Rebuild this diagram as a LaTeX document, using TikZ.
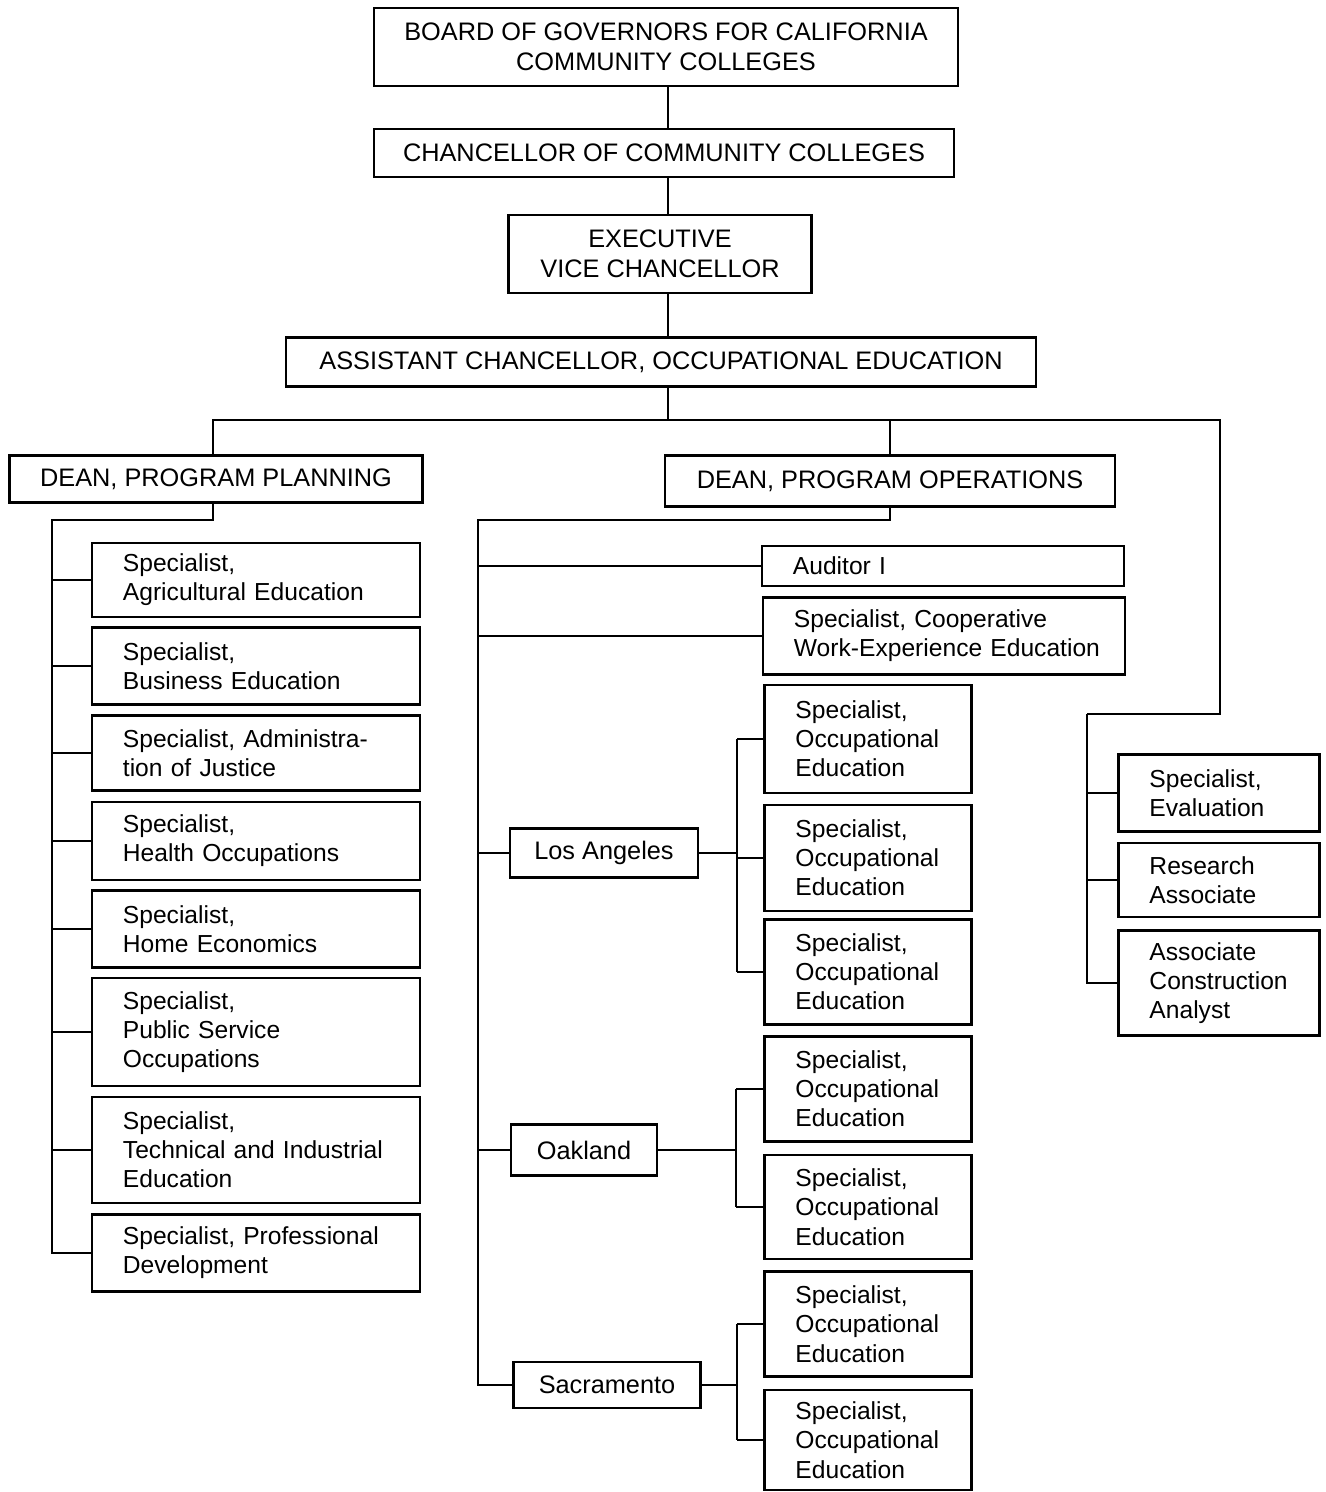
\documentclass[tikz,border=0pt]{standalone}
\usepackage{fontspec}
\setmainfont{Liberation Sans}
\usepackage{tikz}
\usetikzlibrary{positioning}

\tikzset{
  txt/.style={font=\fontsize{7.2}{8.5}\selectfont},
  box/.style={draw, line width=0.65pt, txt, align=center, inner sep=0pt},
  spec/.style={draw, line width=0.65pt, font=\fontsize{7.0}{8.3}\selectfont, align=left,
    inner xsep=0.31cm, inner ysep=0pt, execute at begin node={\hyphenpenalty=10000\exhyphenpenalty=10000}},
  lspec/.style={spec, text width=2.66cm},
  ospec/.style={spec, text width=1.45cm},
  rspec/.style={spec, text width=1.39cm},
  link/.style={line width=0.65pt},
}

\begin{document}
\begin{tikzpicture}[x=0.01cm, y=-0.01cm]
    \useasboundingbox (0,0) rectangle (1325,1492);

    % Top of the chart
    \node[box, minimum width=5.83cm, minimum height=0.78cm] (board) at (666,47) {BOARD OF GOVERNORS FOR CALIFORNIA\\COMMUNITY COLLEGES};
    \node[box, minimum width=5.79cm, minimum height=0.48cm] (chanc) at (664,153) {CHANCELLOR OF COMMUNITY COLLEGES};
    \node[box, minimum width=3.03cm, minimum height=0.78cm] (evc) at (660,254) {EXECUTIVE\\VICE CHANCELLOR};
    \node[box, minimum width=7.50cm, minimum height=0.49cm] (asst) at (661,362) {ASSISTANT CHANCELLOR, OCCUPATIONAL EDUCATION};
    \node[box, minimum width=4.13cm, minimum height=0.47cm] (deanpp) at (216,479) {DEAN, PROGRAM PLANNING};
    \node[box, minimum width=4.50cm, minimum height=0.51cm] (deanpo) at (890,481) {DEAN, PROGRAM OPERATIONS};

    \coordinate (trunk) at (668,420);
    \coordinate (ppdrop) at (213,420);
    \coordinate (rtop) at (1220,420);
    \coordinate (rbot) at (1220,714);
    \coordinate (staff) at (1087,714);
    \coordinate (ppbus) at (52,520);
    \coordinate (pobus) at (478,520);

    \draw[link] (trunk |- board.south) -- (trunk |- chanc.north);
    \draw[link] (trunk |- chanc.south) -- (trunk |- evc.north);
    \draw[link] (trunk |- evc.south) -- (trunk |- asst.north);
    \draw[link] (trunk |- asst.south) -- (trunk);
    \draw[link] (ppdrop |- deanpp.north) -- (ppdrop) -- (rtop) -- (rbot) -- (staff);
    \draw[link] (deanpo.north) -- (deanpo.north |- rtop);

    % Program planning specialists
    \node[lspec, minimum height=0.74cm] (agri) at (256,580) {Specialist,\\Agricultural Education};
    \node[lspec, minimum height=0.77cm] (bus) at (256,666) {Specialist,\\Business Education};
    \node[lspec, minimum height=0.75cm] (just) at (256,753) {Specialist, Administra-\\tion of Justice};
    \node[lspec, minimum height=0.78cm] (hlth) at (256,841) {Specialist,\\Health Occupations};
    \node[lspec, minimum height=0.77cm] (home) at (256,929) {Specialist,\\Home Economics};
    \node[lspec, minimum height=1.08cm] (pub) at (256,1032) {Specialist,\\Public Service\\Occupations};
    \node[lspec, minimum height=1.06cm] (tech) at (256,1150) {Specialist,\\\mbox{Technical and Industrial}\\Education};
    \node[lspec, minimum height=0.77cm] (prof) at (256,1253) {Specialist, Professional\\Development};

    \draw[link] (ppdrop |- deanpp.south) |- (ppbus) |- (prof.west);
    \foreach \n in {agri, bus, just, hlth, home, pub, tech} {
      \draw[link] (ppbus |- \n.west) -- (\n.west);
    }

    % Program operations
    \node[spec, text width=3.0cm, minimum height=0.40cm] (aud) at (943,566) {Auditor I};
    \node[spec, text width=3.0cm, minimum height=0.77cm] (coop) at (944,636) {Specialist, Cooperative\\\mbox{Work-Experience Education}};
    \node[box, minimum width=1.88cm, minimum height=0.49cm] (la) at (604,853) {Los Angeles};
    \node[box, minimum width=1.46cm, minimum height=0.51cm] (oak) at (584,1150) {Oakland};
    \node[box, minimum width=1.87cm, minimum height=0.46cm] (sac) at (607,1385) {Sacramento};

    \draw[link] (deanpo.south) |- (pobus) |- (sac.west);
    \foreach \n in {aud, coop, la, oak} {
      \draw[link] (pobus |- \n.west) -- (\n.west);
    }

    % Regional specialists
    \foreach \n/\y/\h in {la1/739/1.08, la2/858/1.06, la3/972/1.05, oak1/1089/1.05, oak2/1207/1.04, sac1/1324/1.05, sac2/1440/1.00} {
      \node[ospec, minimum height=\h cm] (\n) at (868,\y) {Specialist,\\Occupational\\Education};
    }

    \coordinate (labus) at (737,0);
    \draw[link] (la.east) -- (labus |- la.east);
    \draw[link] (labus |- la1.west) -- (labus |- la3.west);
    \coordinate (oakbus) at (736,0);
    \draw[link] (oak.east) -- (oakbus |- oak.east);
    \draw[link] (oakbus |- oak1.west) -- (oakbus |- oak2.west);
    \coordinate (sacbus) at (737,0);
    \draw[link] (sac.east) -- (sacbus |- sac.east);
    \draw[link] (sacbus |- sac1.west) -- (sacbus |- sac2.west);
    \foreach \n/\b in {la1/labus, la2/labus, la3/labus, oak1/oakbus, oak2/oakbus, sac1/sacbus, sac2/sacbus} {
      \draw[link] (\b |- \n.west) -- (\n.west);
    }

    % Staff on the right
    \node[rspec, minimum height=0.77cm] (eval) at (1219,793) {Specialist,\\Evaluation};
    \node[rspec, minimum height=0.74cm] (res) at (1219,880) {Research\\Associate};
    \node[rspec, minimum height=1.05cm] (cons) at (1219,983) {Associate\\Construction\\Analyst};

    \draw[link] (staff) |- (cons.west);
    \foreach \n in {eval, res} {
      \draw[link] (staff |- \n.west) -- (\n.west);
    }
  \end{tikzpicture}
\end{document}
